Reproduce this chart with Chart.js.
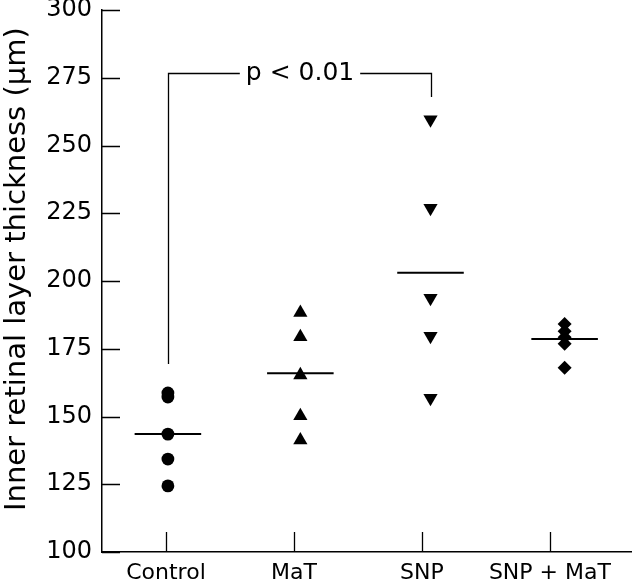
<!DOCTYPE html>
<html>
<head>
<meta charset="utf-8">
<script src="https://cdn.jsdelivr.net/npm/chart.js@4/dist/chart.umd.min.js"></script>
<style>
  html, body { margin: 0; padding: 0; background: #fff; }
  #wrap { width: 640px; height: 583px; position: relative; }
</style>
</head>
<body>
<div id="wrap"><canvas id="chart"></canvas></div>
<script>
// ── Inner retinal layer thickness by treatment group ─────────────────────────

var categories = ['Control', 'MaT', 'SNP', 'SNP + MaT'];
var groupX     = [0.015, 1.05, 2.067, 3.115];   // where each group's dots sit on the x scale

var control = [158.7, 157.2, 143.5, 134.3, 124.4];
var mat     = [188.3, 179.4, 165.3, 150.2, 141.3];
var snp     = [259.6, 226.9, 193.7, 179.7, 156.8];
var snpMat  = [184.1, 181.5, 179.2, 176.8, 168.0];
var means   = [143.5, 166.0, 203.0, 178.6];

var yTicks  = [100, 125, 150, 175, 200, 225, 250, 275, 300];

// significance bracket: [fromGroup, toGroup, topValue, leftFoot, rightFoot]
var bracket = [0, 2, 276.8, 169.4, 267.9];
var bracketLabel = 'p < 0.01';

var FONT = '"DejaVu Sans", sans-serif';

function points(i, values) {
    return values.map(function (v) { return { x: groupX[i], y: v }; });
}

function meanLine(i) {
    var half = 0.26;
    return [{ x: groupX[i] - half, y: means[i] }, { x: groupX[i] + half, y: means[i] }];
}

function dotSet(i, values, style, radius, rotation) {
    return {
        type: 'scatter',
        label: categories[i],
        data: points(i, values),
        pointStyle: style,
        pointRadius: radius,
        pointHoverRadius: radius,
        pointRotation: rotation || 0,
        backgroundColor: '#000',
        borderColor: '#000',
        borderWidth: 0,
        clip: false
    };
}

function meanSet(i) {
    return {
        type: 'line',
        label: categories[i] + ' mean',
        data: meanLine(i),
        borderColor: '#000',
        borderWidth: 2,
        pointRadius: 0,
        fill: false,
        tension: 0
    };
}

// inward tick marks on both axes
var innerTicks = {
    id: 'innerTicks',
    afterDraw: function (chart) {
        var ctx = chart.ctx, xs = chart.scales.x, ys = chart.scales.y;
        var area = chart.chartArea;
        ctx.save();
        ctx.strokeStyle = '#000';
        ctx.lineWidth = 1.3;
        ctx.beginPath();
        categories.forEach(function (_, i) {
            var px = Math.round(xs.getPixelForValue(i)) + 0.5;
            ctx.moveTo(px, area.bottom);
            ctx.lineTo(px, area.bottom - 20);
        });
        yTicks.forEach(function (v) {
            var py = Math.round(ys.getPixelForValue(v)) + 0.5;
            ctx.moveTo(area.left, py);
            ctx.lineTo(area.left + 18, py);
        });
        ctx.stroke();
        ctx.restore();
    }
};

// bracket with the p value written into its top bar
var sigBracket = {
    id: 'sigBracket',
    afterDatasetsDraw: function (chart) {
        var ctx = chart.ctx, xs = chart.scales.x, ys = chart.scales.y;
        var x1 = Math.round(xs.getPixelForValue(groupX[bracket[0]])) + 0.5;
        var x2 = Math.round(xs.getPixelForValue(groupX[bracket[1]])) + 0.5;
        var yTop = Math.round(ys.getPixelForValue(bracket[2])) + 0.5;
        var yL = ys.getPixelForValue(bracket[3]);
        var yR = ys.getPixelForValue(bracket[4]);
        var mid = (x1 + x2) / 2;

        ctx.save();
        ctx.font = '25px ' + FONT;
        var tw = ctx.measureText(bracketLabel).width;
        var gap = 6;

        ctx.strokeStyle = '#000';
        ctx.lineWidth = 1.3;
        ctx.beginPath();
        ctx.moveTo(x1, yL);
        ctx.lineTo(x1, yTop);
        ctx.lineTo(mid - tw / 2 - gap, yTop);
        ctx.moveTo(mid + tw / 2 + gap, yTop);
        ctx.lineTo(x2, yTop);
        ctx.lineTo(x2, yR);
        ctx.stroke();

        ctx.fillStyle = '#000';
        ctx.textAlign = 'center';
        ctx.textBaseline = 'middle';
        ctx.fillText(bracketLabel, mid, yTop);
        ctx.restore();
    }
};

/* global Chart */
new Chart(document.getElementById('chart'), {
    type: 'scatter',
    data: {
        datasets: [
            dotSet(0, control, 'circle', 6.4),
            dotSet(1, mat, 'triangle', 8.2),
            dotSet(2, snp, 'triangle', 8.2, 180),
            dotSet(3, snpMat, 'rectRot', 7),
            meanSet(0), meanSet(1), meanSet(2), meanSet(3)
        ]
    },
    options: {
        responsive: true,
        maintainAspectRatio: false,
        animation: false,
        layout: { padding: { top: 10, right: 0, left: 0, bottom: 0 } },
        plugins: {
            legend: { display: false },
            tooltip: { enabled: false }
        },
        scales: {
            x: {
                type: 'linear',
                min: -0.5,
                max: 3.64,
                afterFit: function (s) {
                    s.height = 31;
                    s.paddingLeft = 0;
                    s.paddingRight = 0;
                },
                afterBuildTicks: function (s) {
                    s.ticks = categories.map(function (_, i) { return { value: i }; });
                },
                grid: { drawOnChartArea: false, drawTicks: false },
                border: { display: true, color: '#000', width: 1.5 },
                ticks: {
                    color: '#000',
                    font: { family: FONT, size: 22 },
                    padding: 8,
                    maxRotation: 0,
                    callback: function (v) { return categories[v]; }
                }
            },
            y: {
                min: 100,
                max: 300,
                afterFit: function (s) {
                    s.width = 102;
                    s.paddingTop = 0;
                    s.paddingBottom = 0;
                },
                afterBuildTicks: function (s) {
                    s.ticks = yTicks.map(function (v) { return { value: v }; });
                },
                grid: { drawOnChartArea: false, drawTicks: false },
                border: { display: true, color: '#000', width: 1.5 },
                title: {
                    display: true,
                    // leading spaces nudge the centred (rotated) title towards the top, as in the original
                    text: '\u2002 Inner retinal layer thickness (\u00b5m)',
                    color: '#000',
                    font: { family: FONT, size: 29 },
                    padding: { top: 0, bottom: 0 }
                },
                ticks: {
                    color: '#000',
                    font: { family: FONT, size: 24 },
                    padding: 10
                }
            }
        }
    },
    plugins: [innerTicks, sigBracket]
});
</script>
</body>
</html>
